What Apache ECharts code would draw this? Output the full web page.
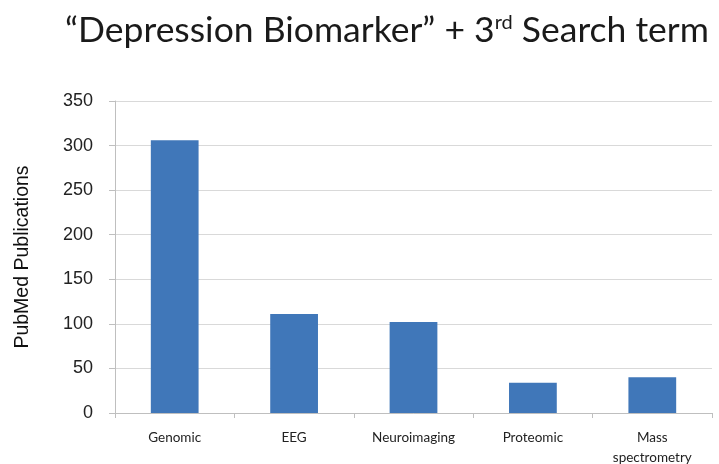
<!DOCTYPE html>
<html><head><meta charset="utf-8">
<script src="https://cdn.jsdelivr.net/npm/echarts@6/dist/echarts.min.js"></script>
<style>html,body{margin:0;padding:0;background:#fff}#c{width:719px;height:464px}</style>
</head><body><div id="c"></div>
<script>
const categories = ["Genomic", "EEG", "Neuroimaging", "Proteomic", "Mass\nspectrometry"];
const publications = [306, 111, 102, 34, 40];
const yTicks = [0, 50, 100, 150, 200, 250, 300, 350];

const chart = echarts.init(document.getElementById('c'));
chart.setOption({
  animation: false,
  title: {
    text: '{m|“Depression Biomarker” + 3}{s|rd}{m| Search term}',
    left: 382, top: 8, textAlign: 'center',
    textStyle: {
      fontWeight: 'normal',
      rich: {
        m: {fontFamily: 'Lato', fontSize: 35.5, fontWeight: 'normal', color: '#1a1a1a', verticalAlign: 'bottom'},
        s: {fontFamily: 'Lato', fontSize: 20, fontWeight: 'normal', color: '#1a1a1a', verticalAlign: 'top', padding:[0,0,16,0]}
      }
    }
  },
  grid: {left: 115, right: 7, top: 101, bottom: 51, outerBoundsMode: 'none', containLabel: false},
  xAxis: {
    type: 'category', data: categories,
    axisLine: {lineStyle: {color: '#bfbfbf'}},
    axisTick: {show: true, alignWithLabel: false, length: 5, lineStyle: {color: '#bfbfbf'}},
    axisLabel: {fontFamily: 'Lato', fontSize: 13.5, color: '#222', margin: 15, lineHeight: 20}
  },
  yAxis: {
    type: 'value', min: yTicks[0], max: yTicks[yTicks.length-1], interval: 50,
    name: 'PubMed Publications', nameLocation: 'middle', nameGap: 82, nameRotate: 90,
    nameTextStyle: {fontFamily: 'Liberation Sans', fontSize: 19.5, color: '#111'},
    axisLine: {show: true, lineStyle: {color: '#bfbfbf'}},
    axisTick: {show: true, length: 6, lineStyle: {color: '#bfbfbf'}},
    axisLabel: {fontFamily: 'Liberation Sans', fontSize: 18, color: '#222', margin: 22},
    splitLine: {lineStyle: {color: '#d9d9d9', width: 1.2}}
  },
  series: [{
    type: 'bar', data: publications, barWidth: '40%',
    itemStyle: {color: '#4077b9'}
  }]
});
</script></body></html>
